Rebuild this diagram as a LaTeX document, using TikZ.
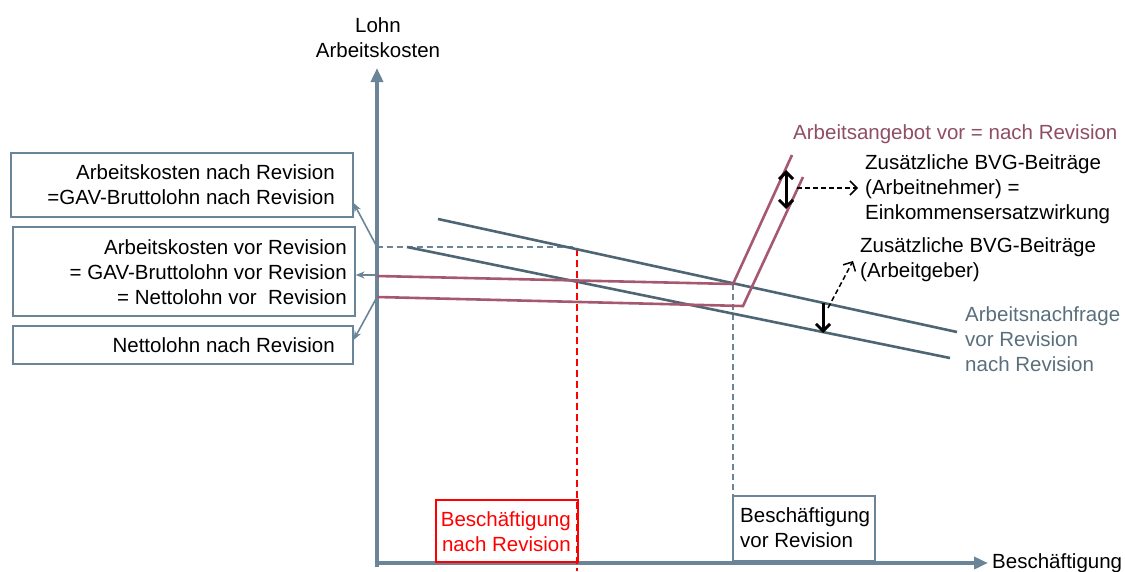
\documentclass[tikz,border=0pt]{standalone}
\usepackage{fontspec}
\setmainfont{Liberation Sans}
\usetikzlibrary{arrows.meta}
\definecolor{axisblue}{HTML}{6A8597}
\definecolor{demand}{HTML}{4E6573}
\definecolor{supply}{HTML}{A5586F}
\definecolor{supplytxt}{HTML}{8F4E63}
\definecolor{slatetxt}{HTML}{5A6F7D}
\tikzset{
  lbl/.style={font=\fontsize{20.5}{25}\selectfont, inner sep=0pt},
  infobox/.style={draw=axisblue, line width=1.6pt, rectangle, inner sep=0pt},
  axisline/.style={axisblue, line width=4pt},
  pointer/.style={axisblue, line width=1.6pt, -{Stealth[length=9pt,width=7pt]}},
  demandline/.style={demand, line width=2.6pt},
  supplyline/.style={supply, line width=2.6pt, line join=miter},
  guide/.style={axisblue, line width=1.5pt, dash pattern=on 6pt off 4pt},
  redguide/.style={red, line width=2.2pt, dash pattern=on 7pt off 4pt},
  markarrow/.style={black, line width=3pt},
  notearrow/.style={black, line width=1.5pt, dash pattern=on 5pt off 3pt},
  barb/.tip={Straight Barb[length=7pt,width=14pt]},
}
\begin{document}
\begin{tikzpicture}[x=1pt,y=-1pt]
\useasboundingbox (0,0) rectangle (1125,571);

% axes
\coordinate (ytip) at (377,68);
\coordinate (xtip) at (988,563);
\draw[axisline, -{Triangle[length=14pt,width=12pt]}] (377,567) -- (ytip);
\draw[axisline, -{Triangle[length=14pt,width=12pt]}] (375,563) -- (xtip);
\node[lbl, align=center] (ylab) at (378,38) {Lohn\\Arbeitskosten};
\node[lbl, anchor=west] (xlab) at (992,563) {Beschäftigung};

% guide lines
\coordinate (wnach) at (377,247);
\coordinate (redtop) at (577,249);
\coordinate (redbot) at (577,571);
\draw[guide] (wnach) -- (577,247);
\draw[redguide] (redtop) -- (redbot);
\coordinate (vortop) at (733,284);
\draw[guide] (vortop) -- (733,495);

% demand curves
\coordinate (dv1) at (438,219);
\coordinate (dv2) at (957,332);
\coordinate (dn1) at (407,247);
\coordinate (dn2) at (950,358);
\draw[demandline] (dv1) -- (dv2);
\draw[demandline] (dn1) -- (dn2);

% supply curves
\coordinate (sa1) at (377,276);
\coordinate (sak) at (733,284);
\coordinate (sa2) at (792,155);
\coordinate (sb1) at (377,297);
\coordinate (sbk) at (743,306);
\coordinate (sb2) at (803,177);
\draw[supplyline] (sa1) -- (sak) -- (sa2);
\draw[supplyline] (sb1) -- (sbk) -- (sb2);

% left info boxes
\node[infobox, anchor=north west, minimum width=342pt, minimum height=64pt] (box1) at (10,152) {};
\node[lbl, anchor=east, align=right] (t1) at (335,185) {Arbeitskosten nach Revision\\=GAV-Bruttolohn nach Revision};
\node[infobox, anchor=north west, minimum width=342pt, minimum height=89pt] (box2) at (12,226) {};
\node[lbl, anchor=east, align=right] (t2) at (347,272) {Arbeitskosten vor Revision\\= GAV-Bruttolohn vor Revision\\= Nettolohn vor~~Revision};
\node[infobox, anchor=north west, minimum width=340pt, minimum height=38pt] (box3) at (12,325) {};
\node[lbl, anchor=east] (t3) at (335,345) {Nettolohn nach Revision};

\coordinate (p1) at (377,247);
\coordinate (p2) at (377,275);
\coordinate (p3) at (377,297);
\draw[pointer] (p1) -- (box1.east |- 0,203);
\draw[pointer] (p2) -- (box2.east |- 0,275);
\draw[pointer] (p3) -- (box3.east |- 0,340);

% employment boxes
\node[infobox, draw=red, anchor=north west, minimum width=142pt, minimum height=62pt] (rbox) at (435,499) {};
\node[lbl, text=red, anchor=east, align=right] (rtxt) at (571,532) {Beschäftigung\\nach Revision};
\node[infobox, anchor=north west, minimum width=142pt, minimum height=65pt] (vbox) at (732,495) {};
\node[lbl, anchor=west, align=left] (vtxt) at (740,528) {Beschäftigung\\vor Revision};

% curve labels
\node[lbl, text=supplytxt, anchor=west] (angebot) at (793,134) {Arbeitsangebot vor = nach Revision};
\node[lbl, anchor=west, align=left] (an) at (865,189) {Zusätzliche BVG-Beiträge\\(Arbeitnehmer) =\\Einkommensersatzwirkung};
\node[lbl, anchor=west, align=left] (ag) at (860,260) {Zusätzliche BVG-Beiträge\\(Arbeitgeber)};
\node[lbl, text=slatetxt, anchor=west, align=left] (nachfrage) at (965,339) {Arbeitsnachfrage\\vor Revision\\nach Revision};

% contribution markers
\coordinate (an1) at (786,170);
\coordinate (an2) at (786,209);
\draw[markarrow, barb-barb] (an1) -- (an2);
\coordinate (ans) at (797,188);
\draw[notearrow, -barb] (ans) -- ([xshift=-7pt]an.west |- ans);
\coordinate (ag1) at (823,303);
\coordinate (ag2) at (823,333);
\draw[markarrow, -barb] (ag1) -- (ag2);
\coordinate (ags) at (828,308);
\coordinate (agt) at (853,261);
\draw[notearrow, -barb] (ags) -- (agt);
\end{tikzpicture}
\end{document}
